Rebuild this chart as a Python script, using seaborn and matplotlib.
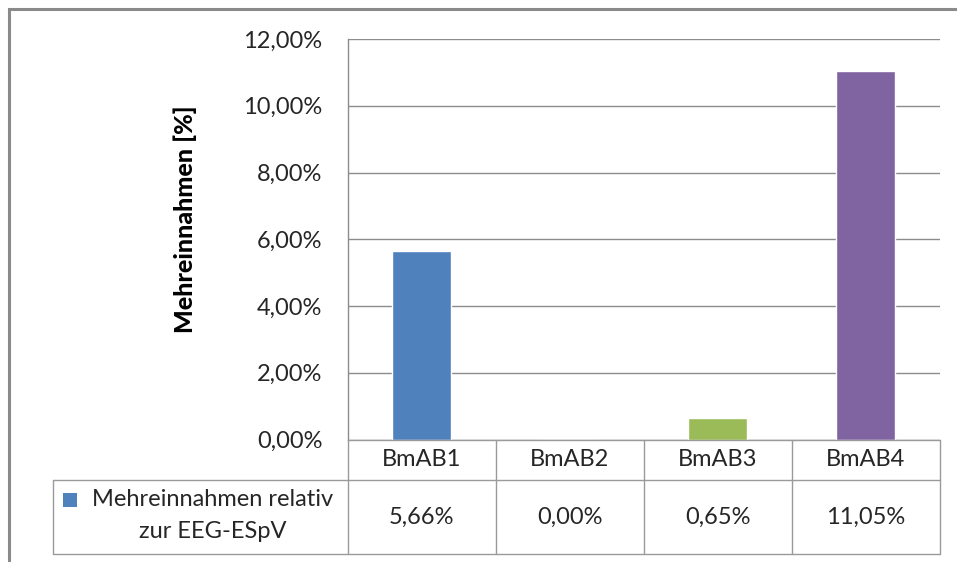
import matplotlib
matplotlib.use("Agg")
import matplotlib.pyplot as plt
import matplotlib.transforms as mtransforms
from matplotlib.lines import Line2D
from matplotlib.patches import Rectangle
from matplotlib.ticker import FuncFormatter, MultipleLocator
import seaborn as sns
import pandas as pd

# Data
categories = ["BmAB1", "BmAB2", "BmAB3", "BmAB4"]
values = [5.66, 0.00, 0.65, 11.05]  # percent
series_label = ["Mehreinnahmen relativ", "zur EEG-ESpV"]
y_label = "Mehreinnahmen [%]"
colors = ["#4F81BD", "#C0504D", "#9BBB59", "#8064A2"]

sns.set_theme(style="white")
plt.rcParams["font.family"] = ["Lato", "DejaVu Sans"]

W, H = 957, 562
FS = 17
TXT = "#262626"
fig = plt.figure(figsize=(W / 100, H / 100), dpi=100)


def fx(px):
    return px / W


def fy(py):
    return 1 - py / H


def pct(v):
    return f"{v:.2f}".replace(".", ",") + "%"


# plot area in pixel coordinates
left, right, top, base = 347.5, 939.5, 39.0, 439.5
ax = fig.add_axes([fx(left), fy(base), fx(right - left), (base - top) / H])

df = pd.DataFrame({"cat": categories, "val": values})
sns.barplot(data=df, x="cat", y="val", hue="cat", palette=colors,
            legend=False, width=0.4, ax=ax, saturation=1)

ax.set_xlim(-0.5, len(categories) - 0.5)
ax.set_ylim(0, 12)
ax.yaxis.set_major_locator(MultipleLocator(2))
ax.yaxis.set_major_formatter(FuncFormatter(lambda v, _: pct(v)))
ax.set_xlabel("")
ax.set_ylabel("")
ax.set_xticks([])
ax.tick_params(axis="y", length=0, pad=18, labelsize=FS, labelcolor=TXT)
ax.grid(axis="y", color="#8C8C8C", linewidth=1.0)
ax.set_axisbelow(True)
for s in ["top", "right", "bottom"]:
    ax.spines[s].set_visible(False)
ax.spines["left"].set_color("#8C8C8C")
ax.spines["left"].set_linewidth(1.0)

# y-axis title
fig.text(fx(185), fy(219), y_label, rotation=90, ha="center", va="center",
         fontsize=18, fontweight="black", color="#000000")

# data table under the axis: x from data coordinates, y in figure fraction
trans = mtransforms.blended_transform_factory(ax.transData, fig.transFigure)
line_kw = dict(color="#9A9A9A", linewidth=1.0, clip_on=False)

row1_top, row1_bot, row2_bot = 439.5, 480.0, 553.5
n = len(categories)
# horizontal lines
fig.add_artist(Line2D([fx(left), fx(right)], [fy(row1_top)] * 2, **line_kw))
fig.add_artist(Line2D([fx(53), fx(right)], [fy(row1_bot)] * 2, **line_kw))
fig.add_artist(Line2D([fx(53), fx(right)], [fy(row2_bot)] * 2, **line_kw))
# vertical lines
fig.add_artist(Line2D([fx(53), fx(53)], [fy(row1_bot), fy(row2_bot)], **line_kw))
for i in range(n + 1):
    xb = i - 0.5
    ax.add_line(Line2D([xb, xb], [fy(row1_top), fy(row2_bot)],
                       transform=trans, **line_kw))

for i, (c, v) in enumerate(zip(categories, values)):
    ax.text(i, fy((row1_top + row1_bot) / 2), c, transform=trans,
            ha="center", va="center", fontsize=FS, color=TXT)
    ax.text(i, fy((row1_bot + row2_bot) / 2 + 1), pct(v), transform=trans,
            ha="center", va="center", fontsize=FS, color=TXT)

# row header with series key
fig.text(fx(213), fy(500), series_label[0], ha="center", va="center",
         fontsize=FS, color=TXT)
fig.text(fx(213), fy(531), series_label[1], ha="center", va="center",
         fontsize=FS, color=TXT)
fig.add_artist(Rectangle((fx(63), fy(507)), fx(14), 14 / H,
                         facecolor=colors[0], edgecolor="none"))

# outer chart frame (runs past the right and bottom edges)
fig.add_artist(Rectangle((fx(8.5), fy(H + 20)), fx(W + 20), (H + 20 - 8.5) / H,
                         facecolor="none", edgecolor="#8A8A8A", linewidth=2.2))

fig.savefig("out.png", dpi=100)
